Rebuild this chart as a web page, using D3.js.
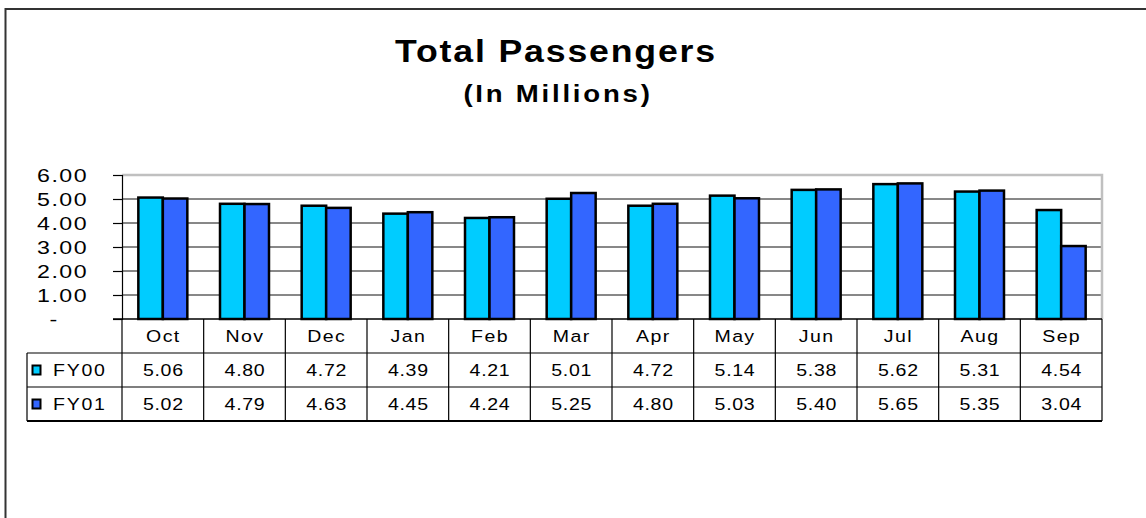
<!DOCTYPE html>
<html><head><meta charset="utf-8">
<script src="https://cdn.jsdelivr.net/npm/d3@7"></script>
<style>
html,body{margin:0;padding:0;background:#fff;}
svg{display:block;font-family:"Liberation Sans",Arial,sans-serif;}
</style></head>
<body><svg id="c" width="1146" height="518"></svg>
<script>
const months = ["Oct","Nov","Dec","Jan","Feb","Mar","Apr","May","Jun","Jul","Aug","Sep"];
const seriesNames = ["FY00","FY01"];
const fy00 = [5.06,4.80,4.72,4.39,4.21,5.01,4.72,5.14,5.38,5.62,5.31,4.54];
const fy01 = [5.02,4.79,4.63,4.45,4.24,5.25,4.80,5.03,5.40,5.65,5.35,3.04];
const yTicks = [0,1,2,3,4,5,6];
const yTickLabels = ["-","1.00","2.00","3.00","4.00","5.00","6.00"];
const colors = ["#00CCFF","#3366FF"];
const title = "Total Passengers";
const subtitle = "(In Millions)";

const series = [fy00, fy01];
const svg = d3.select("#c");
const SX = 1.15;

function label(parent, x, y, text, size, opts={}) {
  return parent.append("text")
    .attr("transform", `translate(${x},${y}) scale(${opts.sx||SX},1)`)
    .attr("text-anchor", opts.anchor || "middle")
    .attr("dy", opts.dy || "0.36em")
    .attr("font-size", size)
    .attr("font-weight", opts.bold ? "bold" : "normal")
    .attr("fill", "#000")
    .style("letter-spacing", (opts.ls||0) + "px")
    .text(text);
}

// outer frame
svg.append("rect").attr("x",5.5).attr("y",9).attr("width",1200).attr("height",600)
  .attr("fill","none").attr("stroke","#333").attr("stroke-width",2);

const L = 122, R = 1102, T = 175, B = 319;
const rowH = 34;
const tableL = 27;

const x = d3.scaleBand().domain(months).range([L,R]).padding(0);
const xs = d3.scaleBand().domain(seriesNames).range([0,x.bandwidth()]).paddingInner(0).paddingOuter(0.667);
const y = d3.scaleLinear().domain([0,6]).range([B,T]);

// gridlines
svg.append("g").selectAll("line").data(yTicks.filter(d=>d>0 && d<6)).join("line")
  .attr("x1",L).attr("x2",R).attr("y1",d=>y(d)).attr("y2",d=>y(d))
  .attr("stroke","#111").attr("stroke-width",1);
// plot border top & right (gray)
svg.append("path").attr("d",`M${L},${y(6)}H${R}V${B}`).attr("fill","none")
  .attr("stroke","#c0c0c0").attr("stroke-width",2.5);

// bars
const g = svg.append("g");
series.forEach((vals,si)=>{
  g.selectAll(null).data(vals).join("rect")
    .attr("x",(d,i)=>x(months[i])+xs(seriesNames[si]))
    .attr("y",d=>y(d))
    .attr("width",xs.bandwidth())
    .attr("height",d=>y(0)-y(d))
    .attr("fill",colors[si]).attr("stroke","#000").attr("stroke-width",2.5);
});

// y axis
const yAxis = d3.axisLeft(y).tickValues(yTicks).tickSize(9).tickFormat((d,i)=>yTickLabels[i]);
const ya = svg.append("g").attr("transform",`translate(${L},0)`).call(yAxis);
ya.select(".domain").attr("stroke","#000").attr("stroke-width",1.2);
ya.selectAll(".tick line").attr("stroke","#000").attr("stroke-width",1.2);
ya.selectAll(".tick text").attr("font-size",19).attr("fill","#000")
  .attr("font-family","'Liberation Sans',Arial,sans-serif")
  .style("letter-spacing","1.2px").attr("x",0).attr("dy","0.36em")
  .attr("transform",`translate(-34,0) scale(1.22,1)`);
ya.selectAll(".tick text").filter(d=>d===0).attr("text-anchor","middle")
  .attr("transform",`translate(-68,0) scale(1.22,1)`);

// category axis line
svg.append("line").attr("x1",L-9).attr("x2",R).attr("y1",B).attr("y2",B).attr("stroke","#000").attr("stroke-width",1.5);

// table
const tb = svg.append("g").attr("stroke","#000").attr("stroke-width",1.2);
const bounds = months.map(m=>x(m)).concat([R]);
tb.selectAll("line.v").data(bounds).join("line").attr("class","v")
  .attr("x1",d=>d).attr("x2",d=>d).attr("y1",B).attr("y2",B+rowH*3);
[1,2,3].forEach(r=>{
  tb.append("line").attr("x1",tableL).attr("x2",R).attr("y1",B+rowH*r).attr("y2",B+rowH*r)
    .attr("stroke-width", r===3?2:1.2);
});
tb.append("line").attr("x1",tableL).attr("x2",tableL).attr("y1",B+rowH).attr("y2",B+rowH*3);

const txt = svg.append("g");
months.forEach(m=>label(txt, x(m)+x.bandwidth()/2+0.5, B+rowH/2, m, 17, {ls:1.2}));
series.forEach((vals,si)=>{
  vals.forEach((v,i)=>label(txt, x(months[i])+x.bandwidth()/2+0.5, B+rowH*(si+1)+rowH/2, v.toFixed(2), 17, {ls:0.6}));
  svg.append("rect").attr("x",32.5).attr("y",B+rowH*(si+1)+12.5).attr("width",8).attr("height",9)
    .attr("fill",colors[si]).attr("stroke","#000").attr("stroke-width",2);
  label(svg, 53, B+rowH*(si+1)+rowH/2, seriesNames[si], 17, {anchor:"start", ls:1.5});
});

// titles
label(svg, 556, 51, title, 31, {bold:true, ls:1.6, dy:0});
label(svg, 558, 93, subtitle, 24, {bold:true, ls:2.4, dy:0});
</script></body></html>
